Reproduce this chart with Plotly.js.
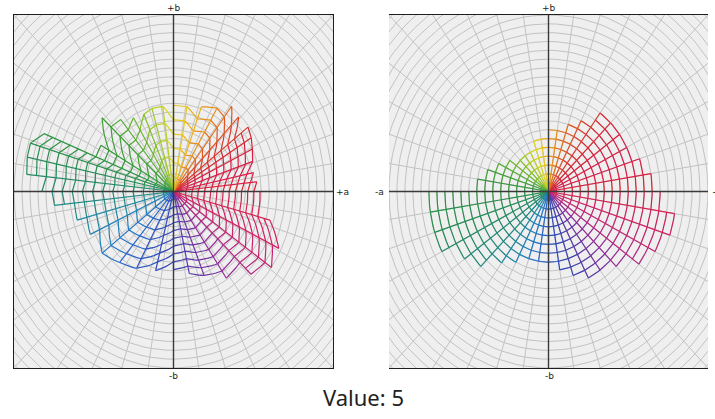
<!DOCTYPE html>
<html><head><meta charset="utf-8">
<script src="https://cdn.plot.ly/plotly-3.0.1.min.js"></script>
<style>html,body{margin:0;padding:0;background:#fff;}#chart{width:715px;height:419px;}</style>
</head><body><div id="chart"></div>
<script>
// Hue spokes (right panel: polar hue angle, degrees) and maximum chroma per hue
const hueAngle = [0,9,18,27,36,45,54,63,72,81,90,99,108,117,126,135,144,153,162,171,180,189,198,207,216,225,234,243,252,261,270,279,288,297,306,315,324,333,342,351];
const chromaMax = [28,26,24,22,22,22,22,18,16,14,14,12,12,10,10,10,12,14,16,18,30,30,30,30,26,24,20,18,16,16,16,18,20,22,22,24,28,30,32,32];
// Left panel: a-b plane angle and radius reached at the maximum chroma of each hue
const abAngle = [0,6,12,19,26,32,38,46,53,60,70,80,90,98,106,113,121,129,137,150,158,163,168,174,180,186,195,205,218,230,242,256,270,282,292,304,316,325,334,345];
const abRadius = [21.7,21,20.5,21,22,23,23.7,23.5,24.2,21.8,20.4,19.5,19.5,19.5,19.6,19,19.5,21,24.5,21,35,37.5,37.5,37,33,30,25,23,22.7,21,19.7,18.5,17.7,19,20.5,23.7,27,30,29.4,25];
const hueColor = ['#e02030','#dc1e40','#d81e48','#d61e44','#d6203c','#d82834','#da3a2c','#de5424','#e2701c','#e89018','#eaae1c','#e6c820','#d8d820','#bcd024','#a0c828','#84be2c','#68b430','#50aa34','#40a038','#34983c','#2c9444','#28904c','#268c58','#248a66','#228874','#208884','#2088a0','#2080b8','#2474c8','#2864c8','#2c54c0','#3448b8','#4040b0','#5a38a8','#7432a0','#962c98','#b42880','#c62470','#d02262','#d82050'];
const valueLabel = 'Value: 5';

const traces = [];
function gridTrace(xa, ya){
  const gx=[], gy=[];
  for(let r=2;r<=58;r+=2){
    for(let t=0;t<=360;t+=3){const a=t*Math.PI/180;gx.push(r*Math.cos(a));gy.push(r*Math.sin(a));}
    gx.push(null);gy.push(null);
  }
  for(let t=0;t<360;t+=9){const a=t*Math.PI/180;gx.push(0,60*Math.cos(a),null);gy.push(0,60*Math.sin(a),null);}
  traces.push({x:gx,y:gy,xaxis:xa,yaxis:ya,mode:'lines',line:{color:'#c2c2c2',width:1},hoverinfo:'skip',showlegend:false});
}
function webTraces(ang, rad, xa, ya){
  const n=ang.length;
  for(let i=0;i<n;i++){
    const j=(i+1)%n;
    const ni=chromaMax[i]/2, nj=chromaMax[j]/2;
    let a0=ang[i], a1=ang[j]; if(a1<=a0) a1+=360;
    const xs=[], ys=[];
    const ai=a0*Math.PI/180;
    xs.push(0, rad[i]*Math.cos(ai), null); ys.push(0, rad[i]*Math.sin(ai), null);
    const m=Math.min(ni,nj);
    for(let k=1;k<=m;k++){
      const r0=rad[i]*k/ni, r1=rad[j]*k/nj;
      for(let s=0;s<=6;s++){
        const f=s/6, a=(a0+(a1-a0)*f)*Math.PI/180, r=r0+(r1-r0)*f;
        xs.push(r*Math.cos(a)); ys.push(r*Math.sin(a));
      }
      xs.push(null); ys.push(null);
    }
    traces.push({x:xs,y:ys,xaxis:xa,yaxis:ya,mode:'lines',line:{color:hueColor[i],width:1.2},hoverinfo:'skip',showlegend:false});
  }
}
function crossTrace(xa, ya){
  traces.push({x:[-40,40,null,0,0],y:[0,0,null,-40,40],xaxis:xa,yaxis:ya,mode:'lines',line:{color:'#3a3a3a',width:1.4},hoverinfo:'skip',showlegend:false});
}
gridTrace('x','y'); gridTrace('x2','y2');
webTraces(abAngle, abRadius, 'x','y');
webTraces(hueAngle, chromaMax, 'x2','y2');
crossTrace('x','y'); crossTrace('x2','y2');

const W=715,H=419;
const px=x=>x/W, py=y=>1-y/H;
const ax = d => ({domain:d, range:[-40,40], showgrid:false, zeroline:false, showticklabels:false, ticks:'', showline:true, mirror:true, linecolor:'#1e1e1e', linewidth:1.2, fixedrange:true});
const lf={family:'DejaVu Sans',size:9,color:'#222'};
const ann=(t,x,y,xa,ya)=>({text:t,x:px(x),y:py(y),xref:'paper',yref:'paper',showarrow:false,font:lf,xanchor:xa||'center',yanchor:ya||'middle'});
const layout={
  width:W,height:H,margin:{l:0,r:0,t:0,b:0},paper_bgcolor:'#ffffff',plot_bgcolor:'#efefef',showlegend:false,
  xaxis:ax([14/W,333/W]), yaxis:ax([py(368),py(15)]),
  xaxis2:ax([389/W,708/W]), yaxis2:ax([py(368),py(15)]),
  annotations:[
    ann('+b',173.5,8),ann('-b',173.5,376),ann('+a',342,191.5),
    ann('+b',549,8),ann('-b',549,376),ann('-a',379,191.5),ann('+a',710,191.5,'left'),
    {text:valueLabel,x:px(363),y:py(397),xref:'paper',yref:'paper',showarrow:false,font:{family:'Noto Sans',size:22,color:'#222'},xanchor:'center',yanchor:'middle'}
  ]
};
Plotly.newPlot('chart',traces,layout,{staticPlot:true,displayModeBar:false});
</script></body></html>
